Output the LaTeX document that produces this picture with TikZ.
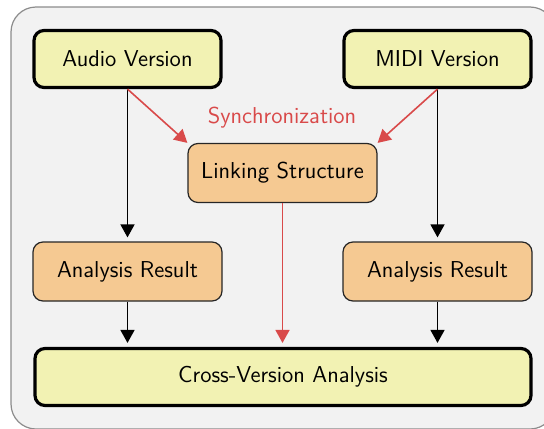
\documentclass[tikz,border=0pt]{standalone}
\usetikzlibrary{arrows.meta}
\definecolor{bgfill}{HTML}{F2F2F2}
\definecolor{framegray}{HTML}{8C8C8C}
\definecolor{yelfill}{HTML}{F2F2B3}
\definecolor{orafill}{HTML}{F5C992}
\definecolor{syncred}{HTML}{D94A4A}
\tikzset{
  srcbox/.style={draw=black, line width=1.6pt, fill=yelfill, rounded corners=5pt,
    minimum width=93.5pt, minimum height=28.5pt, inner sep=0pt},
  resbox/.style={draw=black!85, line width=0.6pt, fill=orafill, rounded corners=5pt,
    minimum width=94.5pt, minimum height=29.5pt, inner sep=0pt},
  flowarrow/.style={draw=black, line width=0.75pt, -{Triangle[length=6.5pt,width=7pt]}, shorten >=2pt},
  syncarrow/.style={draw=syncred, line width=0.8pt, -{Triangle[length=6.5pt,width=7pt]}},
  synclabel/.style={text=syncred, inner sep=0pt}
}
\begin{document}
\begin{tikzpicture}[x=0.5pt,y=-0.5pt, font=\sffamily\fontsize{11.5}{13.5}\selectfont]
\useasboundingbox (0,0) rectangle (544,428);
\draw[framegray, line width=0.6pt, fill=bgfill, rounded corners=12.5pt] (11,7) rectangle (555,429);

\node[srcbox] (audio) at (127.5,59) {Audio Version};
\node[srcbox] (midi) at (437.5,59) {MIDI Version};
\node[resbox] (link) at (282.5,173) {Linking Structure};
\node[resbox] (anl) at (127.5,271.5) {Analysis Result};
\node[resbox] (anr) at (437.5,271.5) {Analysis Result};
\node[srcbox, minimum width=248pt] (cross) at (283,377) {Cross-Version Analysis};
\node[synclabel] (sync) at (282,118) {Synchronization};

\draw[flowarrow] (audio.south) -- (anl.north);
\draw[flowarrow] (midi.south) -- (anr.north);
\draw[flowarrow] (anl.south) -- (anl.south |- cross.north);
\draw[flowarrow] (anr.south) -- (anr.south |- cross.north);
\draw[syncarrow] (audio.south) -- (link.north west);
\draw[syncarrow] (midi.south) -- (link.north east);
\draw[syncarrow, shorten >=2pt] (link.south) -- (link.south |- cross.north);
\end{tikzpicture}
\end{document}
